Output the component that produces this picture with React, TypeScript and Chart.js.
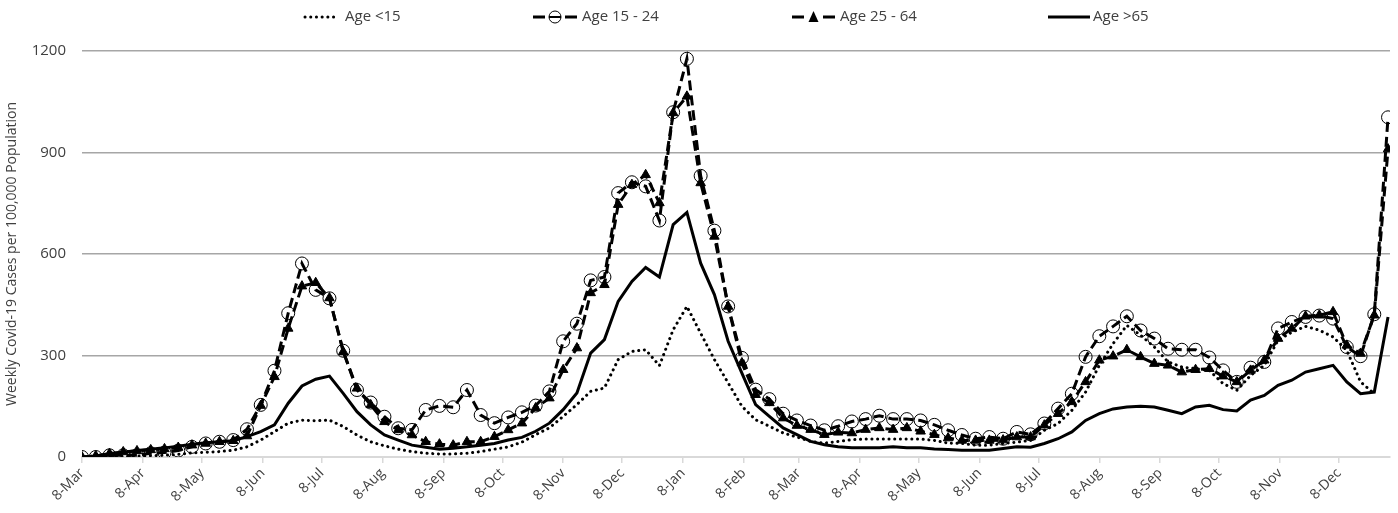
import React, { useEffect, useRef } from 'react';
import { Chart, registerables } from 'chart.js';

Chart.register(...registerables);

// ---- Data (weekly, starting 8-Mar-2020) ----
const SERIES_LABELS = ['Age <15', 'Age 15 - 24', 'Age 25 - 64', 'Age >65'];

const AGE_UNDER_15: (number | null)[] = [
  0, 0, 1, 2, 3, 4, 5, 8, 12, 14, 16, 20, 30, 50, 75, 100, 109, 107, 109, 90,
  65, 45, 33, 23, 16, 11, 9, 9, 11, 16, 23, 30, 44, 66, 86, 120, 155, 194, 204, 288,
  312, 317, 270, 376, 445, 366, 288, 219, 150, 110, 91, 71, 59, 46, 41, 46, 51, 53, 53, 53,
  53, 53, 49, 41, 40, 35, 35, 40, 44, 49, 79, 99, 138, 192, 271, 335, 389, 360, 325, 281,
  266, 261, 256, 217, 197, 241, 271, 345, 369, 386, 375, 355, 315, 222, 187, null,
];

const AGE_15_24: (number | null)[] = [
  0, 0, 5, 5, 5, 11, 13, 19, 30, 40, 45, 50, 82, 154, 255, 425, 572, 494, 469, 314,
  198, 161, 119, 85, 80, 139, 151, 147, 198, 124, 100, 117, 132, 152, 194, 342, 394, 522, 532, 780,
  812, 800, 699, 1019, 1177, 831, 669, 445, 293, 199, 171, 128, 108, 93, 79, 91, 105, 112, 122, 112,
  112, 108, 95, 79, 65, 54, 59, 54, 74, 67, 99, 143, 187, 296, 357, 386, 416, 374, 350, 320,
  317, 317, 294, 256, 222, 264, 281, 380, 399, 414, 418, 409, 325, 298, 422, 1004,
];

const AGE_25_64: (number | null)[] = [
  0, 3, 10, 15, 18, 21, 24, 28, 35, 40, 45, 48, 62, 152, 237, 380, 505, 515, 470, 311,
  203, 154, 104, 80, 65, 45, 38, 35, 45, 45, 60, 80, 100, 145, 174, 258, 322, 485, 509, 746,
  805, 834, 751, 1017, 1066, 810, 652, 445, 278, 184, 160, 115, 93, 81, 66, 73, 71, 81, 86, 81,
  86, 76, 66, 56, 49, 49, 49, 50, 59, 59, 94, 128, 163, 222, 286, 298, 317, 296, 276, 271,
  251, 258, 261, 239, 222, 256, 286, 350, 380, 416, 419, 429, 330, 306, 419, 910,
];

const AGE_OVER_65: (number | null)[] = [
  0, 3, 9, 14, 19, 23, 27, 32, 38, 42, 45, 48, 60, 75, 95, 159, 210, 230, 239, 188,
  134, 95, 65, 50, 35, 29, 23, 26, 30, 35, 40, 50, 58, 76, 100, 140, 189, 307, 347, 460,
  519, 560, 532, 687, 723, 573, 480, 342, 248, 155, 120, 86, 66, 46, 36, 30, 27, 27, 27, 30,
  27, 27, 24, 22, 20, 20, 20, 25, 30, 29, 40, 54, 74, 108, 128, 142, 148, 150, 148, 138,
  128, 148, 153, 140, 136, 168, 182, 212, 227, 251, 261, 271, 222, 187, 192, 414,
];

const TICK_LABELS = [
  '8-Mar', '8-Apr', '8-May', '8-Jun', '8-Jul', '8-Aug', '8-Sep', '8-Oct', '8-Nov', '8-Dec', '8-Jan',
  '8-Feb', '8-Mar', '8-Apr', '8-May', '8-Jun', '8-Jul', '8-Aug', '8-Sep', '8-Oct', '8-Nov', '8-Dec',
];

const Y_TICKS = [0, 300, 600, 900, 1200];

// ---- derived ----
const DAY_MS = 86400000;
const START = Date.UTC(2020, 2, 8);
const TICK_DAYS = TICK_LABELS.map((_, k) => (Date.UTC(2020, 2 + k, 8) - START) / DAY_MS);
const toPoints = (arr: (number | null)[]) => arr.map((v, i) => ({ x: i * 7, y: v }));

const FONT = "'Open Sans', 'Liberation Sans', sans-serif";
const TEXT = '#404040';

const legendPlugin = {
  id: 'excelLegend',
  afterDraw(chart: any) {
    const ctx: CanvasRenderingContext2D = chart.ctx;
    const y = 17;
    const items = [
      { x0: 305, x1: 338, tx: 345, ds: 0 },
      { x0: 533, x1: 577, tx: 582, ds: 1 },
      { x0: 792, x1: 835, tx: 840, ds: 2 },
      { x0: 1048, x1: 1090, tx: 1093, ds: 3 },
    ];
    ctx.save();
    items.forEach((it) => {
      const d = chart.data.datasets[it.ds];
      ctx.save();
      ctx.strokeStyle = '#000';
      ctx.lineWidth = d.borderWidth;
      ctx.lineCap = d.borderCapStyle || 'butt';
      ctx.setLineDash(it.ds === 1 || it.ds === 2 ? [] : d.borderDash || []);
      if (it.ds === 1 || it.ds === 2) {
        const cx = (it.x0 + it.x1) / 2;
        ctx.beginPath();
        ctx.moveTo(it.x0, y);
        ctx.lineTo(it.x0 + 12, y);
        ctx.moveTo(it.x1 - 12, y);
        ctx.lineTo(it.x1, y);
        ctx.stroke();
        ctx.setLineDash([]);
        ctx.lineWidth = 1;
        if (it.ds === 1) {
          ctx.beginPath();
          ctx.arc(cx, y, 6, 0, Math.PI * 2);
          ctx.stroke();
          ctx.beginPath();
          ctx.lineWidth = 2;
          ctx.moveTo(cx - 6, y);
          ctx.lineTo(cx + 6, y);
          ctx.stroke();
        } else {
          ctx.beginPath();
          ctx.moveTo(cx, y - 6);
          ctx.lineTo(cx + 5, y + 5);
          ctx.lineTo(cx - 5, y + 5);
          ctx.closePath();
          ctx.fillStyle = '#000';
          ctx.fill();
        }
      } else {
        ctx.beginPath();
        ctx.moveTo(it.x0, y);
        ctx.lineTo(it.x1, y);
        ctx.stroke();
      }
      ctx.restore();
      ctx.fillStyle = TEXT;
      ctx.font = `15px ${FONT}`;
      ctx.textBaseline = 'middle';
      ctx.textAlign = 'left';
      ctx.fillText(d.label, it.tx, y);
    });
    ctx.restore();
  },
};

export default function App() {
  const canvasRef = useRef<HTMLCanvasElement | null>(null);

  useEffect(() => {
    document.body.style.margin = '0';
    const canvas = canvasRef.current;
    if (!canvas) return;
    const chart = new Chart(canvas, {
      type: 'line',
      data: {
        datasets: [
          {
            label: SERIES_LABELS[0],
            data: toPoints(AGE_UNDER_15),
            borderColor: '#000',
            borderWidth: 3,
            borderDash: [0.1, 5.6],
            borderCapStyle: 'round',
            pointRadius: 0,
            tension: 0,
            order: 4,
          },
          {
            label: SERIES_LABELS[1],
            data: toPoints(AGE_15_24),
            borderColor: '#000',
            borderWidth: 3,
            borderDash: [10, 5],
            pointStyle: 'circle',
            pointRadius: 6.5,
            pointBorderWidth: 1,
            pointBorderColor: '#000',
            pointBackgroundColor: 'rgba(0,0,0,0)',
            tension: 0,
            order: 3,
          },
          {
            label: SERIES_LABELS[2],
            data: toPoints(AGE_25_64),
            borderColor: '#000',
            borderWidth: 3,
            borderDash: [10, 5],
            pointStyle: 'triangle',
            pointRadius: 5.5,
            pointBorderWidth: 1,
            pointBorderColor: '#000',
            pointBackgroundColor: '#000',
            tension: 0,
            order: 2,
          },
          {
            label: SERIES_LABELS[3],
            data: toPoints(AGE_OVER_65),
            borderColor: '#000',
            borderWidth: 3,
            pointRadius: 0,
            tension: 0,
            order: 1,
          },
        ],
      },
      options: {
        animation: false,
        responsive: true,
        maintainAspectRatio: false,
        layout: { padding: { top: 51, right: 8, left: 0, bottom: 0 } },
        plugins: { legend: { display: false }, tooltip: { enabled: false } },
        scales: {
          x: {
            type: 'linear',
            min: 0,
            max: 666,
            afterBuildTicks: (scale: any) => {
              scale.ticks = TICK_DAYS.map((v) => ({ value: v }));
            },
            afterFit: (scale: any) => {
              scale.height = 56;
            },
            grid: {
              drawOnChartArea: false,
              drawTicks: true,
              tickLength: 6,
              color: '#d9d9d9',
              lineWidth: 1.5,
            },
            border: { display: true, color: '#d9d9d9', width: 2 },
            ticks: {
              autoSkip: false,
              maxRotation: 45,
              minRotation: 45,
              padding: 2,
              color: TEXT,
              font: { family: FONT, size: 14 },
              callback: (_v: any, i: number) => TICK_LABELS[i],
            },
          },
          y: {
            min: 0,
            max: 1200,
            afterBuildTicks: (scale: any) => {
              scale.ticks = Y_TICKS.map((v) => ({ value: v }));
            },
            afterFit: (scale: any) => {
              scale.width = 82;
            },
            grid: {
              drawTicks: false,
              color: (c: any) => (c.tick && c.tick.value === 0 ? 'rgba(0,0,0,0)' : '#a6a6a6'),
              lineWidth: 1.5,
            },
            border: { display: false },
            ticks: {
              padding: 16,
              color: TEXT,
              font: { family: FONT, size: 15 },
              callback: (v: any) => String(v),
            },
            title: {
              display: true,
              text: 'Weekly Covid-19 Cases per 100,000 Population',
              color: TEXT,
              font: { family: FONT, size: 14 },
              padding: { top: 4, bottom: 0 },
            },
          },
        },
      },
      plugins: [legendPlugin],
    } as any);
    return () => chart.destroy();
  }, []);

  return (
    <div style={{ position: 'fixed', left: 0, top: 0, width: 1398, height: 513 }}>
      <canvas ref={canvasRef} />
    </div>
  );
}
